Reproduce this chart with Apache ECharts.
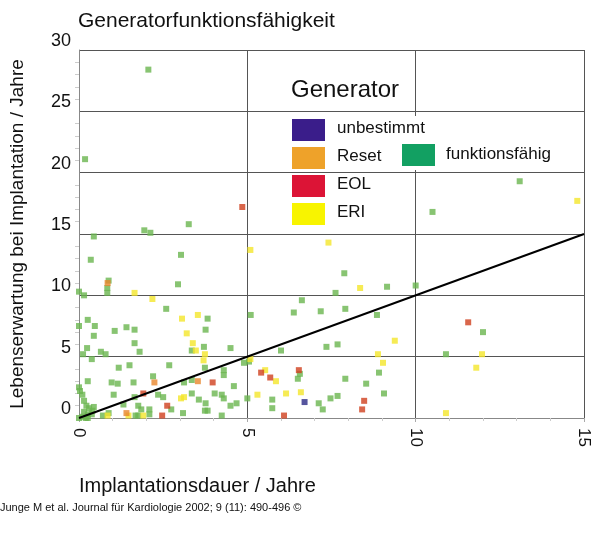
<!DOCTYPE html>
<html>
<head>
<meta charset="utf-8">
<script src="https://cdn.jsdelivr.net/npm/echarts@6/dist/echarts.min.js"></script>
<style>html,body{margin:0;background:#fff}#main{width:600px;height:560px}</style>
</head>
<body>
<div id="main"></div>
<script>
// [Implantationsdauer, Lebenserwartung]
var funktionsfaehig = [
  [0.44,14.8],[0.35,12.9],[1.94,15.3],[2.12,15.1],[3.03,13.3],[0.88,11.2],[0.84,10.6],[0.84,10.2],
  [2.94,10.9],[0,10.3],[0.15,10.0],[2.59,8.9],[5.1,8.4],[3.82,8.1],[0.26,8.0],[0,7.5],[0.47,7.5],
  [0.44,6.7],[1.06,7.1],[1.41,7.4],[1.65,7.2],[3.76,7.2],[1.65,6.1],[3.71,5.8],[3.35,5.5],[1.8,5.4],
  [0.24,5.7],[0.12,5.2],[0.65,5.4],[0.79,5.2],[0.38,4.8],[4.5,5.7],[3.74,4.1],[1.18,4.1],[1.5,4.3],
  [2.68,4.3],[4.9,4.5],[5.05,4.6],[2.2,3.4],[0.26,3.0],[0.97,2.9],[1.15,2.8],[1.62,2.9],[3.12,2.9],
  [3.35,3.1],[4.3,3.9],[4.3,3.5],[4.6,2.6],[1.03,1.9],[1.65,1.7],[2.35,1.9],[2.5,1.7],[3.35,2.0],
  [3.56,1.5],[3.76,1.2],[4.03,2.0],[4.24,1.9],[4.3,1.6],[4.5,1.0],[4.68,1.2],[5.0,1.6],[3.74,0.6],
  [3.82,0.6],[2.74,0.7],[3.09,0.4],[4.24,0.2],[0.88,0.4],[1.68,0.2],[1.76,0.2],[2.09,0.7],[2.09,0.3],
  [1.76,1.0],[1.85,0.7],[1.32,1.1],[0.71,0.2],
  [0,2.5],[0.03,2.2],[0.1,1.9],[0.15,1.4],[0.22,1.0],[0.3,0.8],[0.4,0.6],[0.44,0.9],[0.38,0.3],
  [0.26,0.3],[0.15,0.5],[0.1,0.1],[0,0],[0.2,0.0],[0.26,0.0],
  [7.88,11.8],[7.62,10.2],[9.15,10.7],[10.0,10.8],[6.62,9.6],[6.38,8.6],[7.18,8.7],[7.91,8.9],
  [8.85,8.4],[6.0,5.5],[7.35,5.8],[7.68,6.0],[8.91,3.7],[7.91,3.2],[8.53,2.8],[9.06,2.0],[6.56,3.6],
  [6.5,3.2],[5.74,1.5],[5.74,0.8],[7.12,1.2],[7.24,0.7],[7.47,1.6],[7.68,1.8],
  [13.09,19.3],[10.5,16.8],[12.0,7.0],[10.9,5.2],[2.06,28.4],[0.18,21.1],[3.26,15.8]
];
var eri = [
  [1.65,10.2],[2.18,9.7],[3.06,8.1],[3.53,8.4],[3.2,6.9],[3.38,6.1],[3.47,5.5],[3.74,5.2],[3.7,4.7],
  [5.09,4.8],[5.3,1.9],[3.03,1.6],[3.12,1.7],[1.47,0.2],[0.85,0.2],[1.91,0.2],
  [7.41,14.3],[5.09,13.7],[8.35,10.6],[9.38,6.3],[8.88,5.2],[9.03,4.5],[5.53,3.9],[5.85,3.0],
  [6.15,2.0],[6.59,2.1],[14.8,17.7],[11.97,5.2],[11.8,4.1],[10.9,0.4]
];
var reset = [[0.85,11.0],[2.24,2.9],[3.53,3.0],[1.41,0.4]];
var eol = [[3.97,2.9],[1.91,2.0],[2.62,1.0],[2.47,0.2],[5.41,3.7],[5.68,3.3],[6.53,3.9],[8.47,1.4],
  [8.41,0.7],[6.09,0.2],[11.56,7.8],[4.85,17.2]];
var unbestimmt = [[6.7,1.3]];
var diagonale = [[0,0],[15,15]];
var xTicks = [0, 5, 10, 15];

var legendItems = [
  ['unbestimmt', '#3a1d8a'], ['Reset', '#eea22a'], ['EOL', '#dc1436'], ['ERI', '#f8f400']
];

var myChart = echarts.init(document.getElementById('main'));
var font = 'Liberation Sans';

function pts(data, color) {
  return {
    type: 'scatter', data: data, symbol: 'rect', symbolSize: 6,
    itemStyle: {color: color}, z: 3
  };
}

var graphic = [
  {type: 'rect', z: 5, shape: {x: 286, y: 116, width: 285, height: 54}, style: {fill: '#fff'}},
  {type: 'text', z: 10, left: 291, top: 78, style: {text: 'Generator', font: '24px ' + font, fill: '#111'}},
  {type: 'rect', z: 10, shape: {x: 402, y: 144, width: 33, height: 22}, style: {fill: '#12a062'}},
  {type: 'text', z: 10, left: 446, top: 146, style: {text: 'funktionsfähig', font: '17px ' + font, fill: '#111'}},
  {type: 'text', z: 10, left: 0, top: 502, style: {text: 'Junge M et al. Journal für Kardiologie 2002; 9 (11): 490-496 ©', font: '11px ' + font, fill: '#111'}}
];
legendItems.forEach(function (it, i) {
  graphic.push({type: 'rect', z: 10, shape: {x: 292, y: 119 + i * 28, width: 33, height: 22}, style: {fill: it[1]}});
  graphic.push({type: 'text', z: 10, left: 337, top: 120 + i * 28, style: {text: it[0], font: '17px ' + font, fill: '#111'}});
});

var option = {
  backgroundColor: '#fff',
  animation: false,
  textStyle: {fontFamily: font},
  title: {
    text: 'Generatorfunktionsfähigkeit', left: 73, top: 6,
    textStyle: {fontSize: 21, fontWeight: 'normal', color: '#111', fontFamily: font}
  },
  grid: {left: 67, right: 16, top: 50, bottom: 142},
  xAxis: {
    type: 'value', min: 0, max: 15, interval: 5,
    name: 'Implantationsdauer / Jahre', nameLocation: 'start', nameGap: 0,
    nameTextStyle: {fontSize: 20, color: '#111', align: 'left', verticalAlign: 'top', padding: [58, 0, 0, 0]},
    axisLine: {show: true, lineStyle: {color: '#888'}},
    axisTick: {show: true, inside: false, length: 4, lineStyle: {color: '#aaa'}},
    minorTick: {show: true, splitNumber: 5, length: 3, lineStyle: {color: '#ccc'}},
    axisLabel: {rotate: -90, fontSize: 17, color: '#111', margin: 10,
      formatter: function (v) { return xTicks.indexOf(v) >= 0 ? String(v) : ''; }},
    splitLine: {show: true, lineStyle: {color: '#555', width: 1}}
  },
  yAxis: {
    type: 'value', min: 0, max: 30, interval: 5,
    name: 'Lebenserwartung bei Implantation / Jahre', nameLocation: 'middle', nameGap: 52,
    nameTextStyle: {fontSize: 19, color: '#111'},
    axisLine: {show: true, lineStyle: {color: '#888'}},
    axisTick: {show: false},
    minorTick: {show: true, splitNumber: 5, length: 4, lineStyle: {color: '#ccc'}},
    axisLabel: {fontSize: 18, color: '#111', margin: 8, verticalAlign: 'bottom'},
    splitLine: {show: true, lineStyle: {color: '#555', width: 1}}
  },
  graphic: graphic,
  series: [
    pts(funktionsfaehig, '#6ab54f'),
    pts(eri, '#f4e62a'),
    pts(reset, '#e8862c'),
    pts(eol, '#d0401e'),
    pts(unbestimmt, '#2c2a86'),
    {type: 'line', data: diagonale, symbol: 'none', z: 4,
     lineStyle: {color: '#000', width: 2}}
  ]
};
myChart.setOption(option);
</script>
</body>
</html>
